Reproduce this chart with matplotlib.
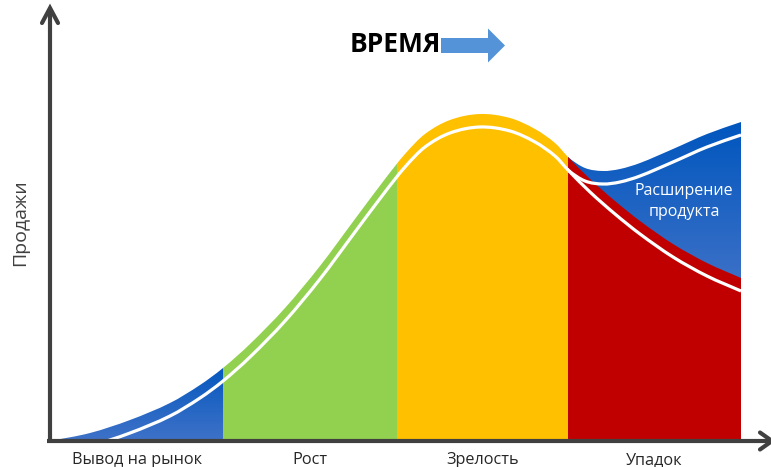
import numpy as np
import matplotlib
matplotlib.use("Agg")
import matplotlib.pyplot as plt
from matplotlib.path import Path
from matplotlib.patches import PathPatch, Rectangle, FancyArrow
from matplotlib.colors import LinearSegmentedColormap

plt.rcParams['font.family'] = ['Open Sans', 'DejaVu Sans']

# stages of the life cycle
stage_names = ["Вывод на рынок", "Рост", "Зрелость", "Упадок"]
stage_edges = [50, 223, 397, 568, 741]
stage_colors = [None, "#92D050", "#FFC000", "#C00000"]

# main sales curve (time, sales)
curve_t = [50, 90, 130, 170, 200, 223, 250, 285, 320, 355, 385, 405, 425, 450, 480,
           510, 535, 555, 568, 590, 615, 640, 673, 707, 741]
curve_s = [0, 8, 21, 38, 56, 73, 97, 133, 175, 222, 262, 287, 307, 321, 327,
           323, 312, 298, 284, 262, 240, 220, 197, 178, 163]

# product extension curve
ext_t = [535, 555, 568, 585, 603, 620, 640, 673, 707, 741]
ext_s = [312, 298, 284, 273, 270, 272, 278, 292, 307, 319]

white_gap = 13


def smooth_path(xs, ys, closed_to_base=False):
    # cubic hermite through the points, written as bezier segments
    x = np.asarray(xs, float)
    y = np.asarray(ys, float)
    m = np.empty_like(y)
    m[1:-1] = (y[2:] - y[:-2]) / (x[2:] - x[:-2])
    m[0] = (y[1] - y[0]) / (x[1] - x[0])
    m[-1] = (y[-1] - y[-2]) / (x[-1] - x[-2])
    verts = [(x[0], y[0])]
    codes = [Path.MOVETO]
    for i in range(len(x) - 1):
        h = x[i + 1] - x[i]
        verts += [(x[i] + h / 3, y[i] + m[i] * h / 3),
                  (x[i + 1] - h / 3, y[i + 1] - m[i + 1] * h / 3),
                  (x[i + 1], y[i + 1])]
        codes += [Path.CURVE4] * 3
    if closed_to_base:
        verts += [(x[-1], 0), (x[0], 0), (x[0], y[0])]
        codes += [Path.LINETO, Path.LINETO, Path.CLOSEPOLY]
    return Path(verts, codes)


fig = plt.figure(figsize=(7.71, 4.67), dpi=100)
ax = fig.add_axes([0, 0, 1, 1])
ax.set_xlim(0, 771)
ax.set_ylim(-26, 441)
ax.axis('off')

blue_cmap = LinearSegmentedColormap.from_list("bl", ["#0056BE", "#3F72C8"])
grad = np.linspace(0, 1, 256).reshape(-1, 1)

# introduction stage, gradient blue
area = PathPatch(smooth_path(curve_t, curve_s, True), fc='none', ec='none')
ax.add_patch(area)
img = ax.imshow(grad, extent=[stage_edges[0], stage_edges[1], 0, 80], cmap=blue_cmap,
                aspect='auto', origin='upper', zorder=1)
img.set_clip_path(area)

# extension area, gradient blue
ext_area = PathPatch(smooth_path(ext_t, ext_s, True), fc='none', ec='none')
ax.add_patch(ext_area)
img2 = ax.imshow(grad, extent=[stage_edges[3], stage_edges[4], 150, 320], cmap=blue_cmap,
                 aspect='auto', origin='upper', zorder=1)
img2.set_clip_path(ext_area)

# other stages
for i in range(1, 4):
    x0, x1 = stage_edges[i], stage_edges[i + 1]
    p = PathPatch(smooth_path(curve_t, curve_s, True), fc=stage_colors[i], ec='none', zorder=2)
    ax.add_patch(p)
    p.set_clip_path(Rectangle((x0, 0), x1 - x0, 420, transform=ax.transData))

# white lines
w_main = PathPatch(smooth_path(curve_t, np.array(curve_s) - white_gap), fill=False,
                   ec='white', lw=2.3, zorder=3)
ax.add_patch(w_main)
w_main.set_clip_path(Rectangle((50, 0), 691, 420, transform=ax.transData))
w_ext = PathPatch(smooth_path(ext_t, np.array(ext_s) - white_gap), fill=False,
                  ec='white', lw=2.3, zorder=3)
ax.add_patch(w_ext)
w_ext.set_clip_path(Rectangle((568, 0), 173, 420, transform=ax.transData))

# axes with open arrow heads
axc = '#404040'
ax.plot([47, 771], [0, 0], color=axc, lw=3, zorder=5, solid_capstyle='butt')
ax.plot([50, 50], [-1.5, 432], color=axc, lw=3, zorder=5, solid_capstyle='butt')
ax.plot([42, 50, 58], [418, 433, 418], color=axc, lw=3, zorder=5,
        solid_capstyle='round', solid_joinstyle='miter')
ax.plot([760, 772, 760], [8.5, 0, -8.5], color=axc, lw=3, zorder=5,
        solid_capstyle='round', solid_joinstyle='miter')

# stage labels
for i, name in enumerate(stage_names):
    xc = (stage_edges[i] + stage_edges[i + 1]) / 2
    ax.text(xc, -19, name, ha='center', va='center', fontsize=11.7, color='#262626')

ax.text(20, 218, "Продажи", rotation=90, ha='center', va='center', fontsize=14, color='#404040')

ax.text(684, 239.5, "Расширение\nпродукта", ha='center', va='center', fontsize=11.5,
        color='white', linespacing=1.4, zorder=6)

# title with arrow
ax.text(395, 396, "ВРЕМЯ", ha='center', va='center', fontsize=19, fontweight='bold', color='black')
ax.add_patch(FancyArrow(441, 395.5, 64, 0, width=15, head_width=34, head_length=17,
                        length_includes_head=True, color='#5593D8', lw=0))

fig.savefig("out.png", dpi=100)
